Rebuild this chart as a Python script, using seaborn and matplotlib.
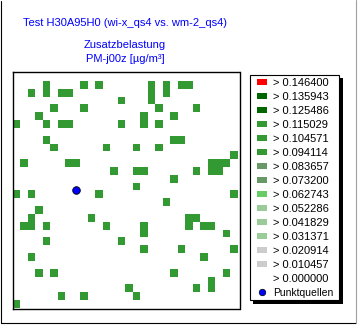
import numpy as np
import pandas as pd
import matplotlib
matplotlib.use("Agg")
import matplotlib.pyplot as plt
import seaborn as sns
from matplotlib.colors import ListedColormap, BoundaryNorm
from matplotlib.patches import Rectangle
from matplotlib.lines import Line2D

# ---------------- data ----------------
title = "Test H30A95H0 (wi-x_qs4 vs. wm-2_qs4)"
subtitle1 = "Zusatzbelastung"
subtitle2 = "PM-j00z [µg/m³]"

n_cols = 30
n_rows = 30

# grid cells (row counted from top, column from left) with their class value
cell_row = [1, 1, 1, 1, 1, 1, 1,
            2, 2, 2, 2, 2, 2,
            3, 3,
            4, 4, 4, 4,
            5, 5, 5,
            6, 6, 6, 6, 6, 6, 6,
            8, 8, 8,
            9, 9, 9, 9,
            10,
            11, 11, 11, 11, 11, 11,
            12, 12, 12, 12, 12, 12,
            13,
            14,
            15, 15, 15, 15,
            16,
            17,
            18, 18, 18, 18,
            19, 19, 19, 19, 19, 19, 19, 19,
            20, 20,
            21, 21,
            22, 22, 22,
            23, 23,
            25, 25, 25, 25,
            26,
            27, 27, 27,
            28, 28, 28,
            29]
cell_col = [4, 9, 11, 18, 20, 22, 23,
            2, 4, 6, 7, 18, 20,
            14, 18,
            5, 9, 19, 24,
            3, 17, 21,
            0, 4, 6, 7, 14, 17, 19,
            4, 21, 22,
            5, 12, 16, 19,
            29,
            1, 7, 8, 26, 27, 28,
            13, 16, 17, 24, 26, 27,
            21,
            16,
            0, 2, 11, 29,
            20,
            3,
            2, 10, 23, 24,
            1, 2, 4, 12, 17, 23, 25, 26,
            17, 28,
            4, 14,
            17, 22, 29,
            2, 25,
            3, 5, 21, 28,
            26,
            15, 24, 26,
            6, 9, 16,
            0]
cell_value = [0.105] * len(cell_col)

thresholds = [0.000000, 0.010457, 0.020914, 0.031371, 0.041829, 0.052286,
              0.062743, 0.073200, 0.083657, 0.094114, 0.104571, 0.115029,
              0.125486, 0.135943, 0.146400]
class_colors = ["#ffffff", "#cccccc", "#cccccc", "#99cc99", "#99cc99", "#99cc99",
                "#66cc66", "#669966", "#669966", "#339933", "#339933", "#339933",
                "#006600", "#006600", "#ff0000"]

source_x = [8.38]
source_y = [14.94]
source_label = "Punktquellen"

# ---------------- figure ----------------
sns.set_style("white")
plt.rcParams["font.family"] = ["Liberation Sans", "DejaVu Sans"]
plt.rcParams["font.size"] = 8

W, H = 360, 327
fig = plt.figure(figsize=(W / 100, H / 100), dpi=100)
fig.patch.set_facecolor("white")

ax = fig.add_axes([12.5 / W, (H - 309) / H, 227 / W, 236.7 / H])

df = pd.DataFrame({"row": cell_row, "col": cell_col, "value": cell_value})
grid = (df.pivot_table(index="row", columns="col", values="value", aggfunc="mean")
          .reindex(index=range(n_rows), columns=range(n_cols)))

bounds = thresholds + [1.0]
cmap = ListedColormap(class_colors)
norm = BoundaryNorm(bounds, cmap.N)
sns.heatmap(grid, ax=ax, cmap=cmap, norm=norm, cbar=False,
            xticklabels=False, yticklabels=False, linewidths=0)
sns.scatterplot(x=source_x, y=source_y, ax=ax, color="#0000ff", edgecolor="black",
                linewidth=0.6, s=30, marker="o", zorder=5, legend=False)
ax.set_xlim(-0.05, 30.25)
ax.set_ylim(30.15, -0.1)
ax.set_xlabel("")
ax.set_ylabel("")
for s in ax.spines.values():
    s.set_visible(True)
    s.set_color("black")
    s.set_linewidth(1.0)

# ---------------- titles ----------------
blue = "#0000ff"
fig.text(125 / W, 1 - 23 / H, title, ha="center", va="center", color=blue, fontsize=8)
fig.text(125 / W, 1 - 44.5 / H, subtitle1, ha="center", va="center", color=blue, fontsize=8)
fig.text(125 / W, 1 - 59.5 / H, subtitle2, ha="center", va="center", color=blue, fontsize=8)

# ---------------- legend & frame (overlay in pixel units) ----------------
ov = fig.add_axes([0, 0, 1, 1], facecolor="none")
ov.set_xlim(0, W)
ov.set_ylim(H, 0)
ov.axis("off")

# outer frame
ov.add_line(Line2D([0.5, 0.5], [0.5, 322.5], color="black", lw=0.8))
ov.add_line(Line2D([0.5, 355.5], [322.5, 322.5], color="black", lw=0.8))
ov.add_line(Line2D([355.5, 355.5], [0.0, 322.5], color="#a0a0a0", lw=0.8))

# legend box with shadow
ov.add_patch(Rectangle((253, 78), 90, 226, facecolor="black", edgecolor="none"))
ov.add_patch(Rectangle((249.5, 74.5), 89.5, 225.5, facecolor="white",
                       edgecolor="black", lw=0.8))

labels = ["> %.6f" % t for t in thresholds[::-1]]
colors_desc = class_colors[::-1]
y0, dy = 82.3, 14.0
for i, (lab, col) in enumerate(zip(labels, colors_desc)):
    yc = y0 + i * dy
    if lab != "> 0.000000":
        ov.add_patch(Rectangle((257.3, yc - 3), 10, 6, facecolor=col, edgecolor="none"))
    ov.text(273, yc + 0.5, lab, ha="left", va="center", fontsize=8, color="black")
yc = y0 + len(labels) * dy
ov.scatter([262.3], [yc], s=22, color="#0000ff", edgecolor="black", linewidth=0.5,
           zorder=5)
ov.text(273, yc + 0.5, source_label, ha="left", va="center", fontsize=7.5, color="black")

fig.savefig("out.png", dpi=100, facecolor="white")
